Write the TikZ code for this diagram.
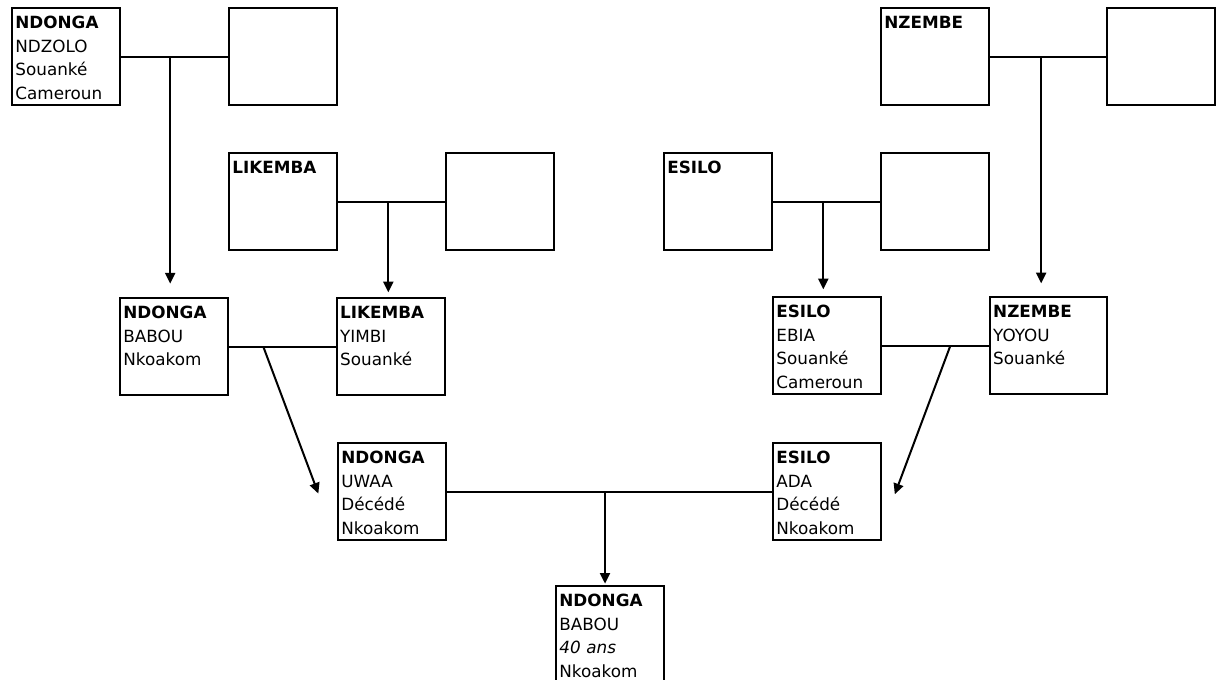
\documentclass[tikz,border=0pt]{standalone}
\usepackage{fontspec}
\setmainfont{DejaVu Sans}
\usetikzlibrary{arrows.meta,calc,positioning}
\newcommand{\fiche}[2]{\textbf{#1}\\#2}

\begin{document}
\begin{tikzpicture}[x=0.75pt,y=0.75pt,node distance=80pt]
\tikzstyle{personne}=[draw,rectangle,line width=1.6pt,anchor=north west,inner xsep=2.5pt,inner ysep=0pt,text width=76pt,text height=15.5pt,text depth=57.25pt,align=left,font=\fontsize{12.6pt}{17.6pt}\selectfont]
\tikzstyle{lien}=[line width=1.5pt]
\tikzstyle{pf}=[lien,-{Triangle[length=8pt,width=7.5pt]}]

\useasboundingbox (0,0) rectangle (1216,-680);

% grands-parents, cote paternel
\node[personne] (ndzolo) at (11,-7) {\fiche{NDONGA}{NDZOLO\\Souanké\\Cameroun}};
\node[personne,right=of ndzolo] (ndzoloEp) {};
\node[personne] (likemba) at (228,-152) {\textbf{LIKEMBA}};
\node[personne,right=of likemba] (likembaEp) {};

% grands-parents, cote maternel
\node[personne] (esilo) at (663,-152) {\textbf{ESILO}};
\node[personne,right=of esilo] (esiloEp) {};
\node[personne] (nzembe) at (880,-7) {\textbf{NZEMBE}};
\node[personne,right=87pt of nzembe] (nzembeEp) {};

% parents des parents
\node[personne] (babou) at (119,-297) {\fiche{NDONGA}{BABOU\\Nkoakom}};
\node[personne,right=of babou] (yimbi) {\fiche{LIKEMBA}{YIMBI\\Souanké}};
\node[personne] (ebia) at (772,-296) {\fiche{ESILO}{EBIA\\Souanké\\Cameroun}};
\node[personne,right=of ebia,text width=83pt] (yoyou) {\fiche{NZEMBE}{YOYOU\\Souanké}};

% parents
\node[personne] (uwaa) at (337,-442) {\fiche{NDONGA}{UWAA\\Décédé\\Nkoakom}};
\node[personne] (ada) at (772,-442) {\fiche{ESILO}{ADA\\Décédé\\Nkoakom}};

\node[personne] (ego) at (555,-585) {\fiche{NDONGA}{BABOU\\\textit{40 ans}\\Nkoakom}};

% unions et descendance
\draw[lien] (ndzolo.east) -- coordinate[pos=0.46] (u1) (ndzoloEp.west);
\draw[pf,shorten >=10pt] (u1) -- (u1 |- babou.north);
\draw[lien] (likemba.east) -- coordinate[pos=0.47] (u2) (likembaEp.west);
\draw[pf,shorten >=3.5pt] (u2) -- (u2 |- yimbi.north);
\draw[lien] (esilo.east) -- coordinate[pos=0.47] (u3) (esiloEp.west);
\draw[pf,shorten >=5pt] (u3) -- (u3 |- ebia.north);
\draw[lien] (nzembe.east) -- coordinate[pos=0.44] (u4) (nzembeEp.west);
\draw[pf,shorten >=9.5pt] (u4) -- (u4 |- yoyou.north);

\draw[lien] (babou.east) -- coordinate[pos=0.32] (u5) (yimbi.west);
\draw[pf] (u5) -- ([xshift=-14pt,yshift=-1.5pt]uwaa.west);
\draw[lien] (ebia.east) -- coordinate[pos=0.64] (u6) (yoyou.west);
\draw[pf] (u6) -- ([xshift=9.5pt,yshift=-2pt]ada.east);

\draw[lien] (uwaa.east) -- coordinate[pos=0.486] (u7) (ada.west);
\draw[pf,shorten >=1pt] (u7) -- (u7 |- ego.north);
\end{tikzpicture}
\end{document}
